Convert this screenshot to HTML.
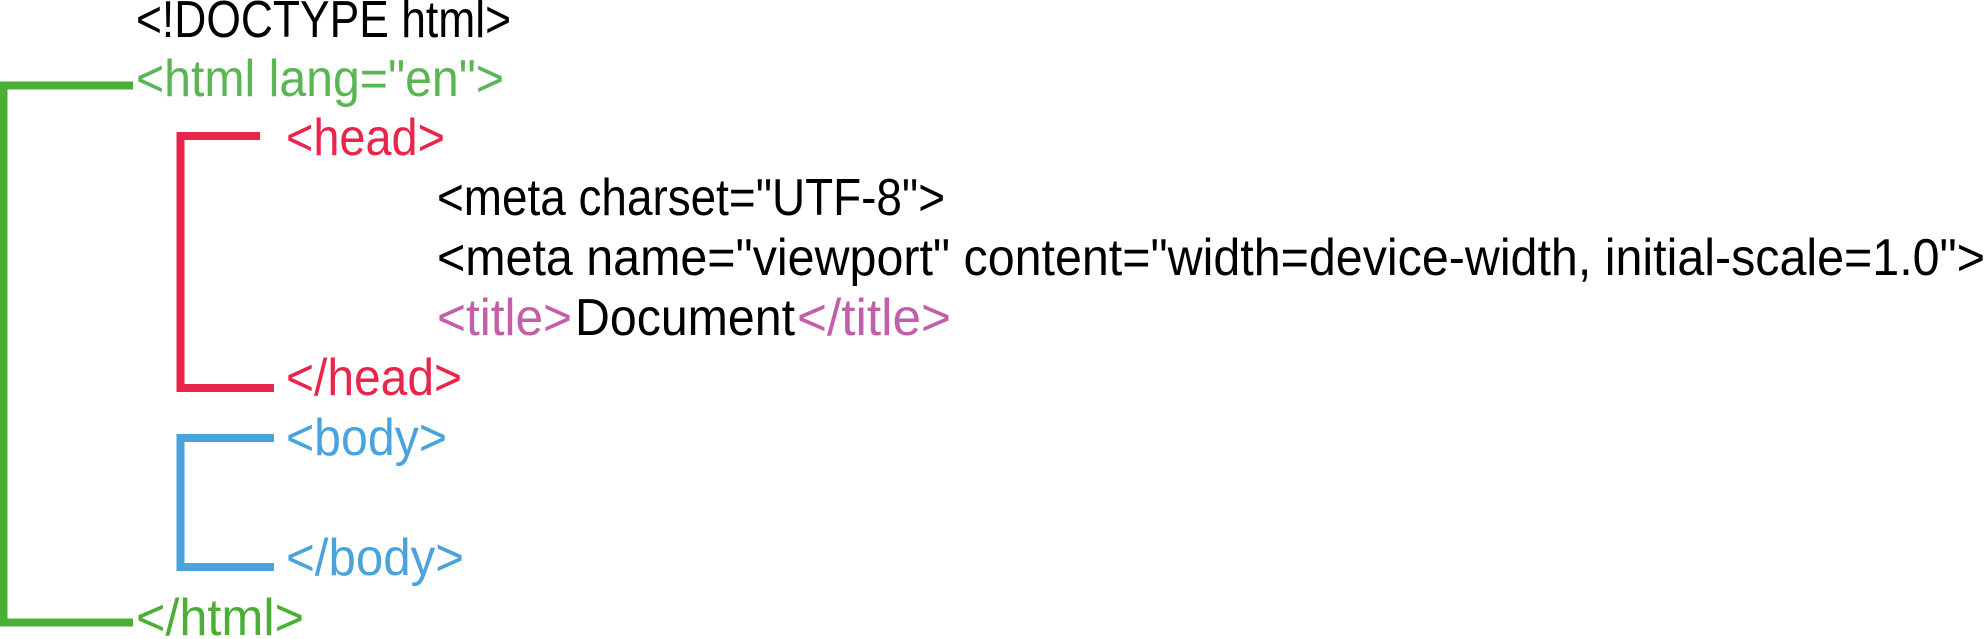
<!DOCTYPE html>
<html><head><meta charset="utf-8"><style>html,body{margin:0;padding:0;background:#fff}svg{display:block}</style></head><body>
<svg width="1987" height="639" viewBox="0 0 1987 639" xmlns="http://www.w3.org/2000/svg" font-family="'Liberation Sans', sans-serif" font-size="52">
<path d="M133 85.5 H3.5 V622.5 H133" fill="none" stroke="#4bae35" stroke-width="8"/>
<path d="M260 136 H180.5 V388 H274" fill="none" stroke="#e8254a" stroke-width="8"/>
<path d="M274 438 H180.5 V567 H274" fill="none" stroke="#4ba3db" stroke-width="8"/>
<text x="136" y="37" fill="#000" textLength="375" lengthAdjust="spacingAndGlyphs">&lt;!DOCTYPE html&gt;</text>
<text x="136" y="96" fill="#5ab552" textLength="368" lengthAdjust="spacingAndGlyphs">&lt;html lang="en"&gt;</text>
<text x="286" y="155" fill="#e8254a" textLength="159" lengthAdjust="spacingAndGlyphs">&lt;head&gt;</text>
<text x="437" y="215" fill="#000" textLength="508" lengthAdjust="spacingAndGlyphs">&lt;meta charset="UTF-8"&gt;</text>
<text x="437" y="275" fill="#000" textLength="1548" lengthAdjust="spacingAndGlyphs">&lt;meta name="viewport" content="width=device-width, initial-scale=1.0"&gt;</text>
<text x="437" y="335" fill="#c25fa8" textLength="135" lengthAdjust="spacingAndGlyphs">&lt;title&gt;</text>
<text x="575" y="335" fill="#000" textLength="220" lengthAdjust="spacingAndGlyphs">Document</text>
<text x="797" y="335" fill="#c25fa8" textLength="154" lengthAdjust="spacingAndGlyphs">&lt;/title&gt;</text>
<text x="286" y="395" fill="#e8254a" textLength="176" lengthAdjust="spacingAndGlyphs">&lt;/head&gt;</text>
<text x="286" y="455" fill="#4ba3db" textLength="161" lengthAdjust="spacingAndGlyphs">&lt;body&gt;</text>
<text x="286" y="575" fill="#4ba3db" textLength="178" lengthAdjust="spacingAndGlyphs">&lt;/body&gt;</text>
<text x="136" y="635" fill="#4bae35" textLength="168" lengthAdjust="spacingAndGlyphs">&lt;/html&gt;</text>
</svg>
</body></html>
